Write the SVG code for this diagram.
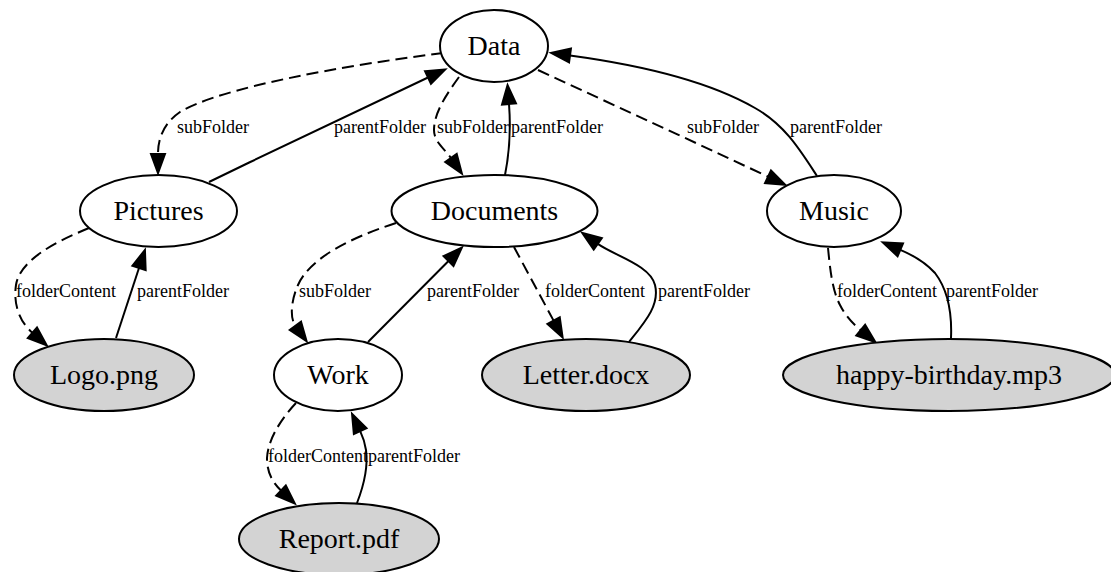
<svg xmlns="http://www.w3.org/2000/svg" width="1111" height="572" viewBox="0 0 1111 572">
<style>
.bg{fill:#ffffff}
.shape{stroke:#000;stroke-width:2}
.folder{fill:#ffffff}
.file{fill:#d3d3d3}
.nl{font-family:"Liberation Serif","Times New Roman",serif;font-size:28px;fill:#000;text-anchor:middle}
.edge{fill:none;stroke:#000;stroke-width:2;marker-end:url(#ah)}
.dash{stroke-dasharray:12,6}
.lbl{font-family:"Liberation Serif","Times New Roman",serif;font-size:18px;fill:#000}
</style>
<defs>
<marker id="ah" markerUnits="userSpaceOnUse" markerWidth="26" markerHeight="20" viewBox="-2 -10 26 20" refX="0" refY="0" orient="auto" overflow="visible">
<path d="M0,-7 L19,0 L0,7 z" fill="#000" stroke="#000" stroke-width="2" stroke-dasharray="none"/>
</marker>
</defs>
<rect class="bg" x="0" y="0" width="1111" height="572"/>
<g id="connectors">
<path class="edge dash" d="M443,53 C340,66 220,88 180,112 C164,123 158,138 158,154"/>
<path class="edge" d="M209,182 C285,145 365,107 428,77.5"/>
<path class="edge dash" d="M459,77 C446,95 434,113 434,130 C434,142 444,148 451,158"/>
<path class="edge" d="M505,175 C509,155 511,130 509,104"/>
<path class="edge" d="M817,176 C800,150 785,125 755,108 C710,82 640,65 570,55.5"/>
<path class="edge dash" d="M538,70 C620,108 690,140 768,176.7"/>
<path class="edge dash" d="M89,228 C55,242 20,260 16,285 C13,305 20,322 32.4,332.8"/>
<path class="edge" d="M116,338 L139,268"/>
<path class="edge dash" d="M396,223 C350,238 310,258 298,285 C292,298 289,317 295.4,325.8"/>
<path class="edge" d="M368,342 L448.5,261"/>
<path class="edge dash" d="M514,247 L553.6,320.6"/>
<path class="edge" d="M629,342 C645,322 660,305 655,285 C650,265 615,256 597.8,243.9"/>
<path class="edge dash" d="M828,248 C830,268 832,290 840,305 C845,315 852,323 860.7,330.1"/>
<path class="edge" d="M951,338 C952,315 948,290 935,273 C925,262 915,256 900.3,249.8"/>
<path class="edge dash" d="M296,403 C280,420 268,440 267,458 C267,472 272,482 281,490.5"/>
<path class="edge" d="M357,503 C364,485 368,465 366,450 C365,443 363,437 360.2,431.1"/>
<text class="lbl" x="177" y="133">subFolder</text>
<text class="lbl" x="334" y="133">parentFolder</text>
<text class="lbl" x="437" y="133">subFolder</text>
<text class="lbl" x="511" y="133">parentFolder</text>
<text class="lbl" x="687" y="133">subFolder</text>
<text class="lbl" x="790" y="133">parentFolder</text>
<text class="lbl" x="16" y="297">folderContent</text>
<text class="lbl" x="137" y="297">parentFolder</text>
<text class="lbl" x="299" y="297">subFolder</text>
<text class="lbl" x="427" y="297">parentFolder</text>
<text class="lbl" x="545" y="297">folderContent</text>
<text class="lbl" x="658" y="297">parentFolder</text>
<text class="lbl" x="837" y="297">folderContent</text>
<text class="lbl" x="946" y="297">parentFolder</text>
<text class="lbl" x="268" y="462">folderContent</text>
<text class="lbl" x="368" y="462">parentFolder</text>
</g>
<g id="Data"><ellipse class="shape folder" cx="494" cy="46" rx="54" ry="36"/><text class="nl" x="494" y="55">Data</text></g>
<g id="Pictures"><ellipse class="shape folder" cx="158.5" cy="211" rx="78.5" ry="36"/><text class="nl" x="158.5" y="220">Pictures</text></g>
<g id="Documents"><ellipse class="shape folder" cx="494.5" cy="211" rx="103" ry="36"/><text class="nl" x="494.5" y="220">Documents</text></g>
<g id="Music"><ellipse class="shape folder" cx="834" cy="211" rx="67" ry="36"/><text class="nl" x="834" y="220">Music</text></g>
<g id="Logo"><ellipse class="shape file" cx="104" cy="375" rx="90" ry="36"/><text class="nl" x="104" y="384">Logo.png</text></g>
<g id="Work"><ellipse class="shape folder" cx="338" cy="375" rx="64" ry="36"/><text class="nl" x="338" y="384">Work</text></g>
<g id="Letter"><ellipse class="shape file" cx="586" cy="375" rx="104" ry="36"/><text class="nl" x="586" y="384">Letter.docx</text></g>
<g id="HappyBirthday"><ellipse class="shape file" cx="949" cy="375" rx="166" ry="36"/><text class="nl" x="949" y="384">happy-birthday.mp3</text></g>
<g id="Report"><ellipse class="shape file" cx="339" cy="539" rx="100" ry="36"/><text class="nl" x="339" y="548">Report.pdf</text></g>
</svg>
